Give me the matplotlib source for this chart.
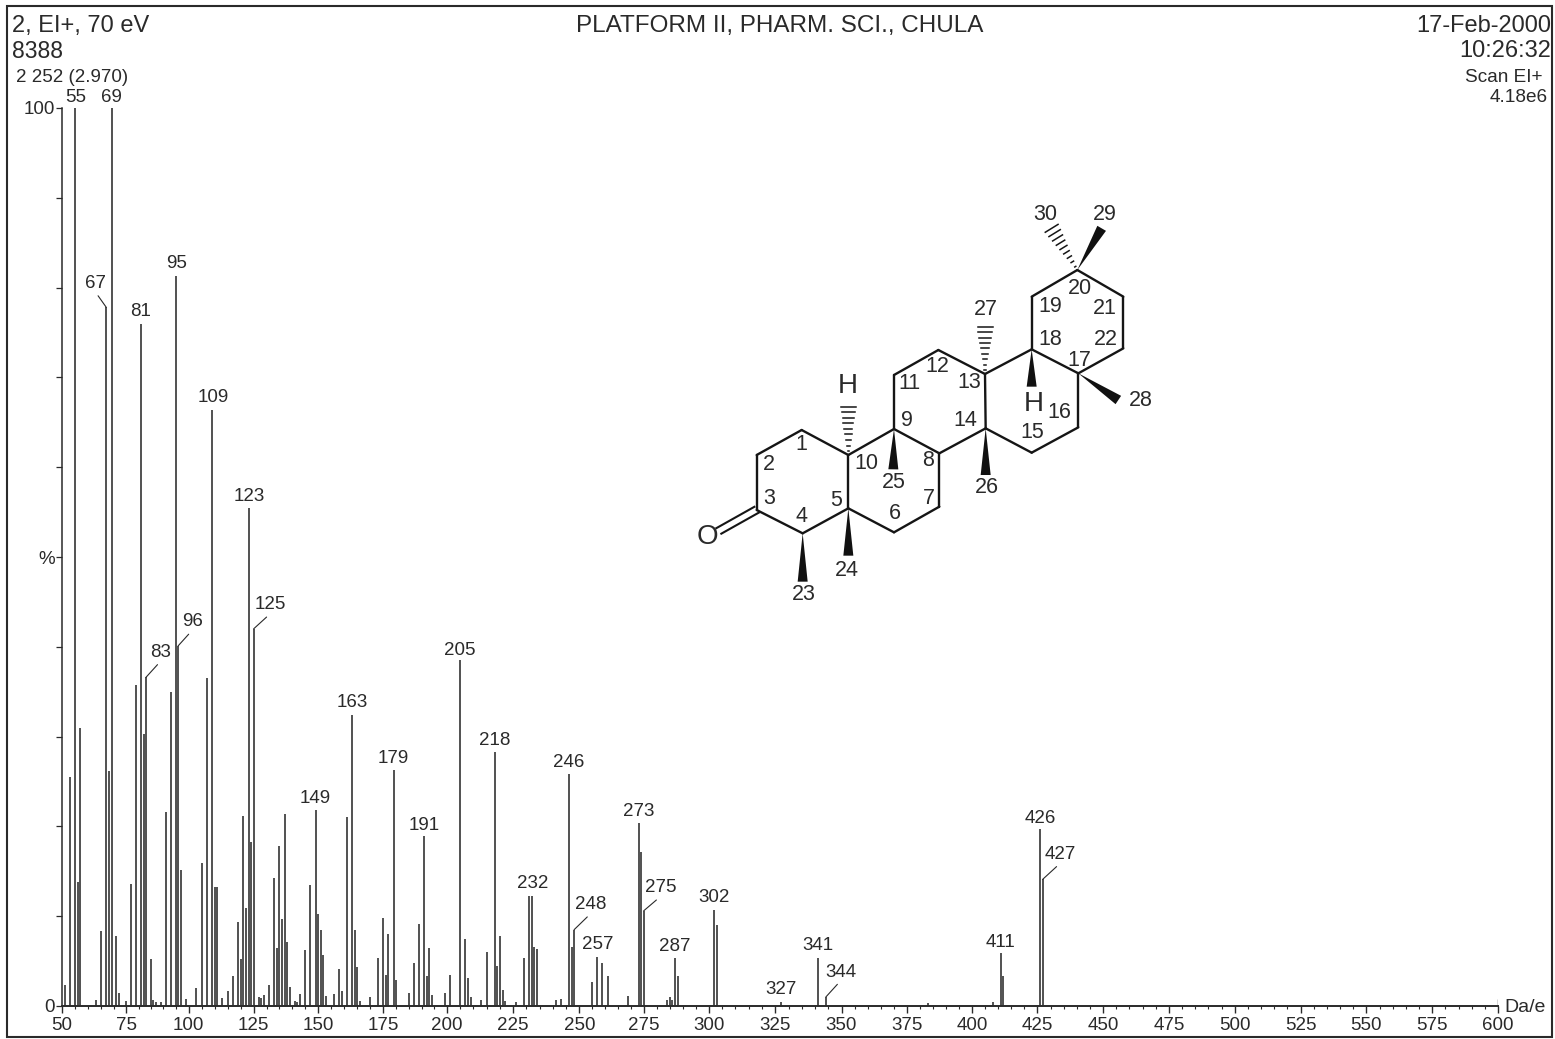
import matplotlib
matplotlib.use('Agg')
import matplotlib.pyplot as plt
from matplotlib.patches import Polygon, Rectangle
import numpy as np

plt.rcParams['font.family'] = ['Liberation Sans', 'DejaVu Sans']

W, H = 1555, 1039
INK = '#2a2a2a'

# m/z and relative intensity (%)
mz = [51, 53, 55, 56, 57, 63, 65, 67, 68, 69, 71, 72, 75, 77, 79, 81, 82, 83, 85, 86,
      87, 89, 91, 93, 95, 96, 97, 99, 103, 105, 107, 109, 110, 111, 113, 115, 117, 119,
      120, 121, 122, 123, 124, 125, 127, 128, 129, 131, 133, 134, 135, 136, 137, 138,
      139, 141, 142, 143, 145, 147, 149, 150, 151, 152, 153, 156, 158, 159, 161, 163,
      164, 165, 166, 170, 173, 175, 176, 177, 179, 180, 185, 187, 189, 191, 192, 193,
      194, 199, 201, 205, 207, 208, 209, 213, 215, 218, 219, 220, 221, 222, 226, 229,
      231, 232, 233, 234, 241, 243, 246, 247, 248, 255, 257, 259, 261, 269, 273, 274,
      275, 284, 285, 286, 287, 288, 302, 303, 327, 341, 344, 383, 408, 411, 412,
      426, 427]
intensity = [2.3, 25.5, 100, 13.8, 31, 0.7, 8.3, 77.8, 26.2, 100, 7.8, 1.5, 0.6, 13.6, 35.8,
             76, 30.3, 36.6, 5.2, 0.7, 0.4, 0.4, 21.6, 35, 81.3, 40.1, 15.1, 0.8, 2, 15.9,
             36.5, 66.4, 13.3, 13.3, 0.9, 1.7, 3.3, 9.4, 5.2, 21.2, 10.9, 55.5, 18.3, 42,
             1, 0.9, 1.2, 2.3, 14.2, 6.5, 17.8, 9.7, 21.4, 7.1, 2.1, 0.6, 0.5, 1.3, 6.2,
             13.5, 21.8, 10.2, 8.5, 5.7, 1.1, 1.3, 4.1, 1.7, 21, 32.4, 8.5, 4.3, 0.6, 1,
             5.3, 9.8, 3.5, 8, 26.3, 2.9, 1.5, 4.8, 9.1, 18.9, 3.3, 6.5, 1.2, 1.4, 3.5,
             38.5, 7.5, 3.1, 1, 0.7, 6, 28.3, 4.5, 7.8, 1.8, 0.6, 0.4, 5.4, 12.3, 12.3,
             6.6, 6.3, 0.7, 0.8, 25.8, 6.6, 8.5, 2.7, 5.5, 4.8, 3.3, 1.1, 20.4, 17.1, 10.6,
             0.7, 1, 0.7, 5.3, 3.3, 10.7, 9, 0.45, 5.3, 1, 0.35, 0.45, 5.9, 3.3, 19.7,
             14.1]

# labelled peaks, (m/z, x offset, y offset) of the label from the peak top
plain_labels = [(55, 1, 11), (69, 0, 11), (81, 0, 12), (95, 1, 12), (109, 1, 12), (123, 1, 11),
                (149, 0, 12), (163, 0, 13), (179, 0, 11), (191, 0, 11), (205, 0, 10),
                (218, 0, 11), (232, 1, 12), (246, 0, 12), (257, 0, 12), (273, 0, 11),
                (287, 0, 12), (302, 0, 12), (327, 0, 12), (341, 0, 13), (411, 0, 11),
                (426, 0, 11)]
leader_labels = [(67, -11, 24), (83, 15, 25), (96, 14, 24), (125, 17, 24), (248, 17, 25),
                 (275, 17, 23), (344, 15, 25), (427, 18, 25)]

# the scan is slightly stretched, so tie the axis to well known peaks
scan_mz = [50, 69, 95, 123, 149, 179, 205, 246, 273, 302, 341, 426, 600]
scan_px = [62, 111.5, 175.5, 248.5, 315.5, 393.5, 460, 569, 638.5, 714, 818, 1040, 1498]
tick_vals = list(range(50, 601, 25))

fig = plt.figure(figsize=(W / 100, H / 100), dpi=100)
left, right, top, bottom = scan_px[0], scan_px[-1], 108, 1006
ax = fig.add_axes([left / W, 1 - bottom / H, (right - left) / W, (bottom - top) / H])
ax.set_xscale('function', functions=(lambda v: np.interp(v, scan_mz, scan_px),
                                     lambda p: np.interp(p, scan_px, scan_mz)))
ax.set_xlim(50, 600)
ax.set_ylim(0, 100)

ax.vlines(mz, 0, intensity, color=INK, lw=1.15)
ax.vlines(600, 0, 0.8, color=INK, lw=1)

for spine in ['top', 'right']:
    ax.spines[spine].set_visible(False)
ax.spines['bottom'].set_linewidth(1.4)
ax.spines['bottom'].set_color(INK)
ax.spines['left'].set_linewidth(1.1)
ax.spines['left'].set_color(INK)

ax.set_xticks(tick_vals)
ax.set_xticks(range(50, 601, 5), minor=True)
ax.set_xticklabels([str(t) for t in tick_vals], fontsize=13.5, color=INK)
ax.tick_params(axis='x', which='major', length=5, width=1, pad=3, color=INK)
ax.tick_params(axis='x', which='minor', length=2.5, width=0.8, color=INK)
ax.set_yticks([0, 10, 20, 30, 40, 50, 60, 70, 80, 90, 100])
ax.set_yticklabels(['0', '', '', '', '', '%', '', '', '', '', '100'], fontsize=13.5, color=INK)
ax.tick_params(axis='y', length=4, width=0.9, pad=1, color=INK)

lookup = dict(zip(mz, intensity))
for m, dx, dy in plain_labels:
    ax.annotate(str(m), xy=(m, lookup[m]), xytext=(dx, dy), textcoords='offset pixels',
                ha='center', va='center', fontsize=13.5, color=INK, annotation_clip=False)
for m, dx, dy in leader_labels:
    ax.annotate(str(m), xy=(m, lookup[m]), xytext=(dx, dy), textcoords='offset pixels',
                ha='center', va='center', fontsize=13.5, color=INK, annotation_clip=False,
                arrowprops=dict(arrowstyle='-', color=INK, lw=0.8, shrinkA=1, shrinkB=0,
                                relpos=(0.5, 0)))

# overlay in picture pixels for the frame, header and the structure
ov = fig.add_axes([0, 0, 1, 1], facecolor='none')
ov.set_xlim(0, W)
ov.set_ylim(H, 0)
ov.axis('off')
ov.add_patch(Rectangle((7, 6), 1545, 1031, fill=False, ec=INK, lw=1.5))


def txt(x, y, s, size, ha='left', weight='normal'):
    ov.text(x, y, s, fontsize=size, ha=ha, va='center', color=INK, fontweight=weight)


txt(12, 26, '2, EI+, 70 eV', 17)
txt(12, 51, '8388', 16.5)
txt(16, 77, '2 252 (2.970)', 13.5)
txt(780, 26, 'PLATFORM II, PHARM. SCI., CHULA', 17.5, ha='center')
txt(1551, 26, '17-Feb-2000', 17, ha='right')
txt(1551, 51, '10:26:32', 17, ha='right')
txt(1543, 77, 'Scan EI+', 13.7, ha='right')
txt(1548, 97, '4.18e6', 13.7, ha='right')
txt(1504, 1007, 'Da/e', 14)

# structure, coordinates are from a 3x crop starting at (680, 190)
atoms = {1: (365, 720), 2: (230, 795), 3: (230, 960), 4: (368, 1030), 5: (505, 955),
         6: (642, 1027), 7: (778, 950), 8: (778, 790), 9: (642, 717), 10: (505, 795),
         11: (642, 555), 12: (775, 480), 13: (915, 552), 14: (917, 715), 15: (1055, 788),
         16: (1195, 712), 17: (1195, 550), 18: (1055, 478), 19: (1055, 320), 20: (1192, 240),
         21: (1330, 320), 22: (1330, 475)}
bonds = [(1, 2), (2, 3), (3, 4), (4, 5), (5, 10), (10, 1), (5, 6), (6, 7), (7, 8), (8, 9),
         (9, 10), (9, 11), (11, 12), (12, 13), (13, 14), (14, 8), (14, 15), (15, 16),
         (16, 17), (17, 18), (18, 13), (18, 19), (19, 20), (20, 21), (21, 22), (22, 17)]
wedges = [(4, (368, 1175)), (5, (505, 1097)), (9, (640, 838)), (14, (917, 855)),
          (18, (1055, 590)), (17, (1315, 630)), (20, (1265, 115))]
hashes = [(10, (505, 650)), (13, (915, 410)), (20, (1115, 115))]
atom_labels = {'1': (365, 762), '2': (268, 822), '3': (268, 925), '4': (365, 980), '5': (468, 930),
               '6': (645, 970), '7': (748, 925), '8': (745, 812), '9': (680, 690), '10': (558, 820),
               '11': (688, 580), '12': (772, 530), '13': (868, 578), '14': (857, 690),
               '15': (1058, 728), '16': (1138, 668), '17': (1197, 512), '18': (1110, 448),
               '19': (1110, 350), '20': (1200, 295), '21': (1275, 355), '22': (1278, 448),
               '23': (370, 1215), '24': (500, 1140), '25': (640, 878), '26': (920, 893),
               '27': (918, 358), '28': (1382, 632), '29': (1275, 72), '30': (1095, 72)}


def crop(p):
    return np.array([680 + p[0] / 3, 190 + p[1] / 3])


for a, b in bonds:
    pa, pb = crop(atoms[a]), crop(atoms[b])
    ov.plot([pa[0], pb[0]], [pa[1], pb[1]], color='#151515', lw=1.7, solid_capstyle='round')

# C=O double bond
for off in [(-3.0, -2.5), (2.0, 3.0)]:
    p3 = crop((232, 958)) + np.array(off)
    po = crop((118, 1022)) + np.array(off)
    ov.plot([p3[0], po[0]], [p3[1], po[1]], color='#151515', lw=1.5)

for a, end in wedges:
    p0, p1 = crop(atoms[a]), crop(end)
    d = p1 - p0
    n = np.array([-d[1], d[0]]) / np.hypot(*d) * 5
    ov.add_patch(Polygon([p0, p1 + n, p1 - n], closed=True, fc='#111111', ec='none'))

for a, end in hashes:
    p0, p1 = crop(atoms[a]), crop(end)
    d = p1 - p0
    n = np.array([-d[1], d[0]]) / np.hypot(*d) * 7.5
    for f in np.linspace(0.08, 1, 9):
        c = p0 + d * f
        ov.plot([c[0] - n[0] * f, c[0] + n[0] * f], [c[1] - n[1] * f, c[1] + n[1] * f],
                color='#151515', lw=1.1)

for s, p in atom_labels.items():
    x, y = crop(p)
    txt(x, y, s, 15.5, ha='center')
for s, p, size in [('H', (503, 588), 20), ('H', (1062, 642), 20), ('O', (82, 1040), 20)]:
    x, y = crop(p)
    txt(x, y, s, size, ha='center')

fig.savefig('out.png', dpi=100)
